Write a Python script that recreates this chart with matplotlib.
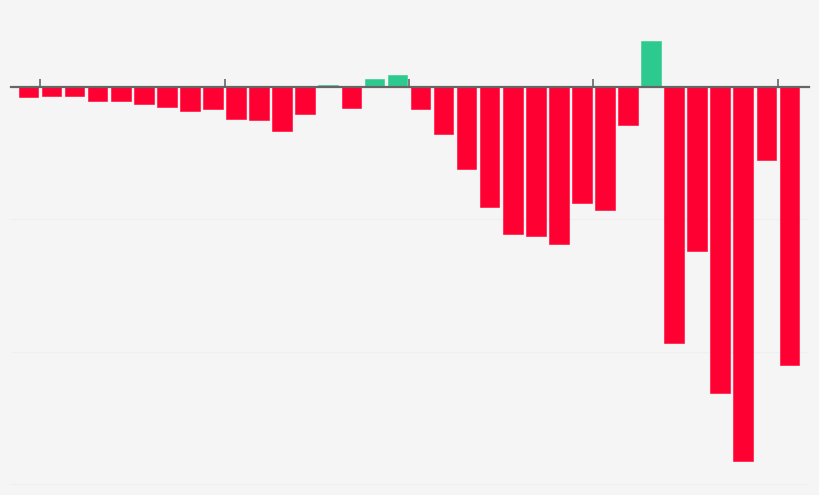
import matplotlib
matplotlib.use("Agg")
import matplotlib.pyplot as plt
import numpy as np

# values (one grid step = 10)
values = [-0.78, -0.70, -0.75, -1.06, -1.08, -1.33, -1.58, -1.86, -1.68,
          -2.42, -2.52, -3.32, -2.09, 0.12, -1.64, 0.54, 0.87, -1.67,
          -3.6, -6.26, -9.09, -11.16, -11.28, -11.91, -8.82, -9.32, -2.91,
          3.46, -19.38, -12.42, -23.13, -28.24, -5.55, -21.04]
grid_levels = [-10, -20, -30]
tick_positions = [0.5, 8.5, 16.5, 24.5, 32.5]

RED = "#ff0033"
GREEN = "#2dca8f"
BG = "#f5f5f5"

x = np.arange(len(values))
colors = [GREEN if v > 0 else RED for v in values]

fig = plt.figure(figsize=(8.2, 4.95), dpi=100, facecolor=BG)
ax = fig.add_axes([11 / 820, 0, 798 / 820, 1])
ax.set_facecolor(BG)

for g in grid_levels:
    ax.axhline(g, color="#efefef", lw=0.9, zorder=0)

ax.bar(x, values, width=0.85, color=colors, edgecolor=colors, linewidth=0.4, zorder=2)

ax.set_xlim(-0.76, 33.85)
ax.set_ylim(-30.83, 6.53)

for s in ["top", "right", "left"]:
    ax.spines[s].set_visible(False)
ax.spines["bottom"].set_position(("data", 0))
ax.spines["bottom"].set_color("#666666")
ax.spines["bottom"].set_linewidth(1.6)
ax.spines["bottom"].set_zorder(3)

ax.set_xticks(tick_positions)
ax.set_xticklabels([])
ax.tick_params(axis="x", direction="in", length=6, width=1.2, color="#666666")
ax.set_yticks([])

fig.savefig("out.png", dpi=100, facecolor=BG)
